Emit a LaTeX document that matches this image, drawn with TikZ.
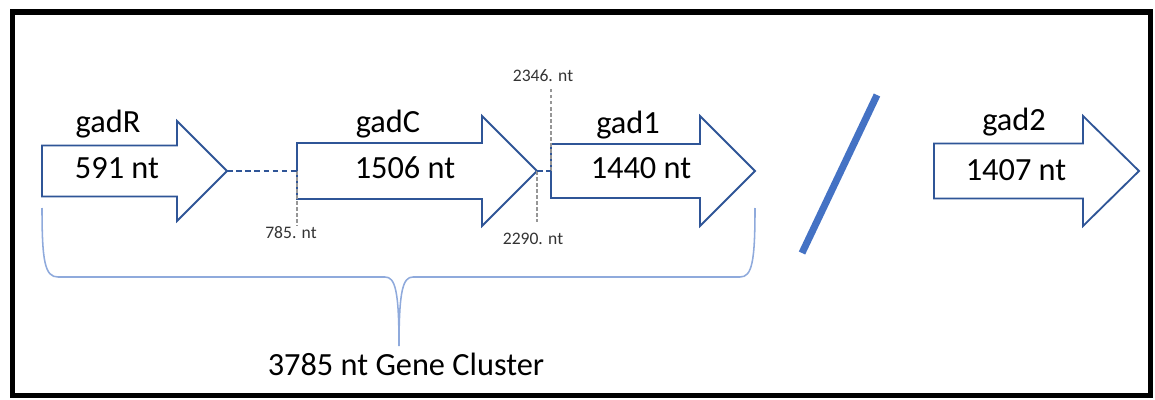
\documentclass[tikz,border=0pt]{standalone}
\usepackage{fontspec}
\setmainfont{Carlito}
\usepackage{tikz}
\usetikzlibrary{positioning}
\usetikzlibrary{calc}
\definecolor{geneblue}{RGB}{47,85,151}
\definecolor{slashblue}{RGB}{68,114,196}
\definecolor{bracelight}{RGB}{143,170,220}
\definecolor{tickgray}{RGB}{150,150,150}

\tikzset{
  gene/.style={draw=geneblue, line width=1.3pt, line join=miter, fill=white},
  genename/.style={anchor=base, inner sep=0pt, font=\fontsize{23}{27}\selectfont},
  genelen/.style={anchor=base, inner sep=0pt, font=\fontsize{23}{27}\selectfont},
  ntpos/.style={anchor=base, inner sep=0pt, font=\fontsize{12.5}{15}\selectfont, text=black!80},
  joint/.style={draw=geneblue, line width=1.2pt, dash pattern=on 4pt off 2.5pt},
  tickline/.style={draw=tickgray, line width=0.8pt, dash pattern=on 2.5pt off 1.8pt}
}

% name, left x, head x, tip x, shaft half, head half
\newcommand{\genearrow}[6]{%
  \draw[gene] (#2,171-#5) -- (#3,171-#5) -- (#3,171-#6) -- (#4,171)
    -- (#3,171+#6) -- (#3,171+#5) -- (#2,171+#5) -- cycle;
  \coordinate (#1-in) at (#2,171);
  \coordinate (#1-out) at (#4,171);
}

\begin{document}
\begin{tikzpicture}[x=0.025cm, y=-0.025cm]
	\useasboundingbox (0,0) rectangle (1155,400);
	\draw[line width=3.6pt] (12.5,12) rectangle (1150.5,395.5);

	% the four genes
	\genearrow{gadR}{42}{177}{227}{25.5}{50}
	\genearrow{gadC}{297}{482}{537}{28}{55}
	\genearrow{gadA}{551}{700}{755}{27}{55}
	\genearrow{gadB}{934}{1083}{1139}{27.5}{55}

	\begin{scope}[every node/.style={genename}]
	    \node (nR) at (108,133) {gadR};
	    \node (nC) at (388,133) {gadC};
	    \node (nA) at (628,134) {gad1};
	    \node (nB) at (1014,131) {gad2};
	\end{scope}

	\begin{scope}[every node/.style={genelen}]
	    \node (lR) at (117,178) {591 nt};
	    \node (lC) at (405,178) {1506 nt};
	    \node (lA) at (641,178) {1440 nt};
	    \node (lB) at (1016,180) {1407 nt};
	\end{scope}

	% junctions and positions
	\coordinate (pC) at (297,226);
	\coordinate (qC) at (537,222);
	\coordinate (pA) at (551,88);
	\path [tickline] (gadC-in) edge (pC);
	\path [tickline] (gadC-out) edge (qC);
	\path [tickline] (gadA-in) edge (pA);
	\path [joint] (gadR-out) edge (gadC-in);
	\path [joint] (gadC-out) edge (gadA-in);

	\node[ntpos] (p785) at (291,238) {785. nt};
	\node[ntpos] (p2346) at (543,82) {2346. nt};
	\node[ntpos] (p2290) at (533,244) {2290. nt};

	% break between cluster and gad2
	\coordinate (s1) at (802,253);
	\coordinate (s2) at (877,95);
	\draw[slashblue, line width=5pt] (s1) -- (s2);

	% brace under the cluster
	\coordinate (tip) at (399,346);
	\draw[bracelight, line width=1.1pt] (42,208) .. controls (42,262) and (45,277) .. (58,277)
	    -- (385,277) .. controls (395,277) and (399,290) .. (tip)
	    .. controls (399,290) and (403,277) .. (413,277)
	    -- (740,277) .. controls (752,277) and (755,262) .. (755,208);
	\node[genename] (cluster) at (406,375) {3785 nt Gene Cluster};
\end{tikzpicture}
\end{document}
